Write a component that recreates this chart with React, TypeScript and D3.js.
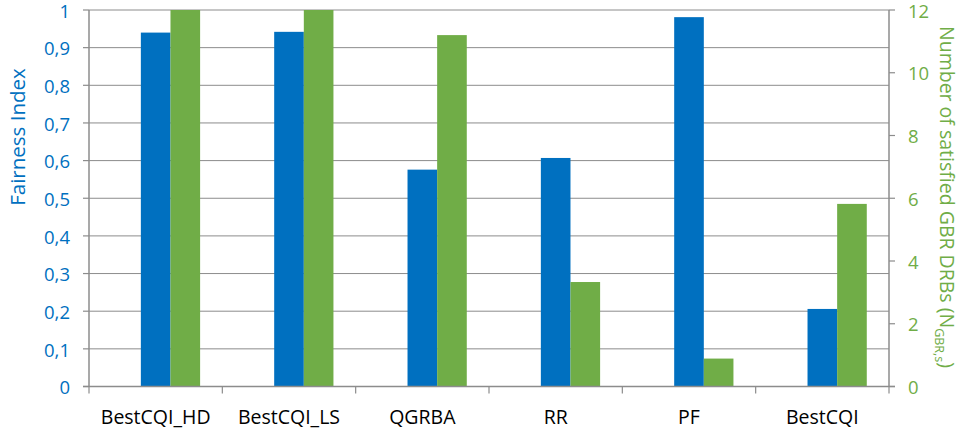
import React from "react";
import * as d3 from "d3";

const categories = ["BestCQI_HD", "BestCQI_LS", "QGRBA", "RR", "PF", "BestCQI"];
const fairness = [0.94, 0.942, 0.576, 0.607, 0.981, 0.206];
const satisfied = [12, 12, 11.2, 3.33, 0.89, 5.82];
const leftTicks = [0, 0.1, 0.2, 0.3, 0.4, 0.5, 0.6, 0.7, 0.8, 0.9, 1];
const rightTicks = [0, 2, 4, 6, 8, 10, 12];

const W = 958;
const H = 432;
const M = { left: 89, right: 69, top: 10, bottom: 45.5 };
const BLUE = "#0070C0";
const GREEN = "#70AD47";
const GRID = "#8c8c8c";
const FONT = "'Open Sans', 'Noto Sans', sans-serif";

export default function App() {
  const iw = W - M.left - M.right;
  const ih = H - M.top - M.bottom;
  const x = d3.scaleBand<string>().domain(categories).range([M.left, M.left + iw]).padding(0);
  // three slots per category (first slot empty), gap width 150%
  const slot = x.bandwidth() / 4.5;
  const yL = d3.scaleLinear().domain([0, 1]).range([M.top + ih, M.top]);
  const yR = d3.scaleLinear().domain([0, 12]).range([M.top + ih, M.top]);
  const fmt = (v: number) => d3.format(".1~f")(v).replace(".", ",");
  const bottom = M.top + ih;
  const right = M.left + iw;

  return (
    <svg width={W} height={H} style={{ position: "absolute", left: 0, top: 0, background: "#fff" }} fontFamily={FONT}>
      {leftTicks.slice(1).map((t) => (
        <line key={"g" + t} x1={M.left} x2={right} y1={yL(t)} y2={yL(t)} stroke={GRID} strokeWidth={1} />
      ))}
      {categories.map((c, i) => (
        <g key={c}>
          <rect x={x(c)! + slot * 1.75} y={yL(fairness[i])} width={slot} height={bottom - yL(fairness[i])} fill={BLUE} />
          <rect x={x(c)! + slot * 2.75} y={yR(satisfied[i])} width={slot} height={bottom - yR(satisfied[i])} fill={GREEN} />
        </g>
      ))}
      {/* axes */}
      <line x1={M.left} x2={M.left} y1={M.top} y2={bottom} stroke={GRID} strokeWidth={1.5} />
      <line x1={right} x2={right} y1={M.top} y2={bottom} stroke={GRID} strokeWidth={1.5} />
      <line x1={M.left - 6} x2={right + 6} y1={bottom} y2={bottom} stroke={GRID} strokeWidth={1.5} />
      {leftTicks.map((t) => (
        <g key={"l" + t}>
          <line x1={M.left - 6} x2={M.left} y1={yL(t)} y2={yL(t)} stroke={GRID} strokeWidth={1.2} />
          <text x={70} y={yL(t) + 1} dy="0.36em" textAnchor="end" fontSize={18.5} fill={BLUE}>
            {fmt(t)}
          </text>
        </g>
      ))}
      {rightTicks.map((t) => (
        <g key={"r" + t}>
          <line x1={right} x2={right + 6} y1={yR(t)} y2={yR(t)} stroke={GRID} strokeWidth={1.2} />
          <text x={908} y={yR(t) + 1} dy="0.36em" textAnchor="start" fontSize={18.5} fill={GREEN}>
            {t}
          </text>
        </g>
      ))}
      {categories.map((c) => (
        <line key={"t" + c} x1={x(c)!} x2={x(c)!} y1={bottom} y2={bottom + 7} stroke={GRID} strokeWidth={1.2} />
      ))}
      <line x1={right} x2={right} y1={bottom} y2={bottom + 7} stroke={GRID} strokeWidth={1.2} />
      {categories.map((c) => (
        <text key={"c" + c} x={x(c)! + x.bandwidth() / 2} y={bottom + 37} textAnchor="middle" fontSize={19.5} fill="#000">
          {c}
        </text>
      ))}
      <text transform={`translate(25,137) rotate(-90)`} textAnchor="middle" fontSize={20.5} fill={BLUE}>
        Fairness Index
      </text>
      <text transform={`translate(940,197) rotate(90)`} textAnchor="middle" fontSize={19.5} fill={GREEN}>
        Number of satisfied GBR DRBs (N
        <tspan fontSize={12.5} dy="5">GBR,s</tspan>
        <tspan dy="-5">)</tspan>
      </text>
    </svg>
  );
}
